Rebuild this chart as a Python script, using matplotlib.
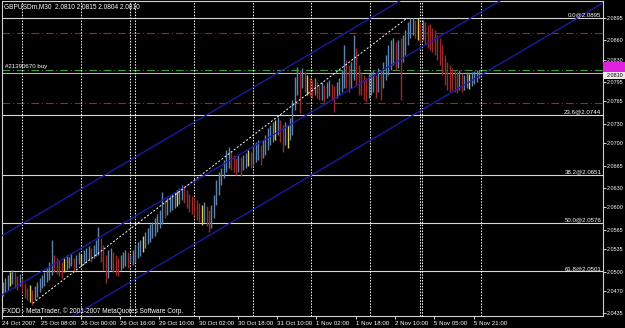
import matplotlib
matplotlib.use("Agg")
import matplotlib.pyplot as plt
from matplotlib.patches import Rectangle
import numpy as np

W, H = 625, 328

# hourly high / low (one entry per two M30 slots)
bar_high = [
    2.0484, 2.0490, 2.0495, 2.0499, 2.0503, 2.0499, 2.0493, 2.0496, 2.0490, 2.0482,
    2.0475, 2.0479, 2.0471, 2.0478, 2.0484, 2.0490, 2.0495, 2.0499, 2.0506, 2.0515,
    2.0549, 2.0526, 2.0521, 2.0518, 2.0515, 2.0521, 2.0526, 2.0523, 2.0527, 2.0521,
    2.0526, 2.0531, 2.0527, 2.0534, 2.0537, 2.0540, 2.0537, 2.0541, 2.0549, 2.0570,
    2.0552, 2.0541, 2.0526, 2.0534, 2.0537, 2.0531, 2.0526, 2.0521, 2.0526, 2.0531,
    2.0534, 2.0531, 2.0526, 2.0534, 2.0541, 2.0546, 2.0549, 2.0556, 2.0562, 2.0568,
    2.0574, 2.0577, 2.0584, 2.0590, 2.0596, 2.0624, 2.0612, 2.0615, 2.0618, 2.0621,
    2.0624, 2.0627, 2.0630, 2.0635, 2.0633, 2.0627, 2.0621, 2.0618, 2.0615, 2.0612,
    2.0607, 2.0604, 2.0608, 2.0602, 2.0596, 2.0604, 2.0619, 2.0643, 2.0655, 2.0661,
    2.0674, 2.0689, 2.0694, 2.0686, 2.0682, 2.0677, 2.0682, 2.0679, 2.0682, 2.0685,
    2.0689, 2.0686, 2.0697, 2.0702, 2.0705, 2.0697, 2.0705, 2.0713, 2.0724, 2.0728,
    2.0733, 2.0736, 2.0741, 2.0736, 2.0728, 2.0733, 2.0728, 2.0739, 2.0767, 2.0803,
    2.0819, 2.0814, 2.0817, 2.0811, 2.0806, 2.0802, 2.0798, 2.0802, 2.0795, 2.0791,
    2.0795, 2.0791, 2.0795, 2.0798, 2.0792, 2.0789, 2.0795, 2.0802, 2.0814, 2.0853,
    2.0830, 2.0822, 2.0826, 2.0868, 2.0848, 2.0822, 2.0811, 2.0806, 2.0802, 2.0808,
    2.0811, 2.0814, 2.0806, 2.0817, 2.0814, 2.0826, 2.0837, 2.0853, 2.0861, 2.0864,
    2.0858, 2.0861, 2.0864, 2.0868, 2.0876, 2.0889, 2.0895, 2.0895, 2.0892, 2.0895,
    2.0889, 2.0892, 2.0889, 2.0884, 2.0886, 2.0879, 2.0876, 2.0868, 2.0864, 2.0853,
    2.0837, 2.0826, 2.0822, 2.0817, 2.0814, 2.0811, 2.0814, 2.0809, 2.0806, 2.0811,
    2.0808, 2.0811, 2.0812, 2.0814, 2.0814,
]
bar_low = [
    2.0462, 2.0468, 2.0471, 2.0478, 2.0481, 2.0475, 2.0471, 2.0478, 2.0468, 2.0459,
    2.0456, 2.0453, 2.0448, 2.0456, 2.0461, 2.0468, 2.0475, 2.0478, 2.0484, 2.0487,
    2.0495, 2.0499, 2.0496, 2.0493, 2.0490, 2.0499, 2.0503, 2.0506, 2.0509, 2.0499,
    2.0506, 2.0512, 2.0509, 2.0512, 2.0515, 2.0518, 2.0515, 2.0521, 2.0524, 2.0526,
    2.0515, 2.0503, 2.0482, 2.0490, 2.0503, 2.0499, 2.0495, 2.0493, 2.0503, 2.0506,
    2.0509, 2.0506, 2.0515, 2.0510, 2.0515, 2.0521, 2.0524, 2.0531, 2.0537, 2.0543,
    2.0546, 2.0552, 2.0556, 2.0562, 2.0568, 2.0574, 2.0584, 2.0588, 2.0593, 2.0596,
    2.0599, 2.0602, 2.0605, 2.0612, 2.0607, 2.0599, 2.0593, 2.0590, 2.0587, 2.0580,
    2.0577, 2.0573, 2.0577, 2.0571, 2.0562, 2.0568, 2.0584, 2.0604, 2.0619, 2.0635,
    2.0646, 2.0655, 2.0661, 2.0658, 2.0655, 2.0650, 2.0655, 2.0649, 2.0658, 2.0661,
    2.0665, 2.0661, 2.0666, 2.0671, 2.0674, 2.0666, 2.0677, 2.0682, 2.0689, 2.0697,
    2.0702, 2.0705, 2.0713, 2.0702, 2.0686, 2.0697, 2.0693, 2.0705, 2.0713, 2.0752,
    2.0775, 2.0747, 2.0786, 2.0780, 2.0775, 2.0774, 2.0770, 2.0775, 2.0770, 2.0767,
    2.0767, 2.0764, 2.0770, 2.0774, 2.0767, 2.0749, 2.0770, 2.0775, 2.0780, 2.0786,
    2.0786, 2.0780, 2.0786, 2.0798, 2.0791, 2.0775, 2.0775, 2.0767, 2.0764, 2.0770,
    2.0775, 2.0780, 2.0770, 2.0780, 2.0767, 2.0786, 2.0798, 2.0806, 2.0814, 2.0822,
    2.0814, 2.0817, 2.0767, 2.0826, 2.0837, 2.0853, 2.0864, 2.0868, 2.0864, 2.0861,
    2.0858, 2.0861, 2.0853, 2.0848, 2.0845, 2.0842, 2.0837, 2.0830, 2.0822, 2.0806,
    2.0791, 2.0783, 2.0780, 2.0783, 2.0780, 2.0778, 2.0783, 2.0780, 2.0783, 2.0786,
    2.0784, 2.0789, 2.0792, 2.0795, 2.0802,
]
yellow_bars = [3, 11, 25, 32, 57, 71, 81, 100, 111, 116, 124, 169, 190]

fib_pct = ["0.0", "23.6", "38.2", "50.0", "61.8"]
fib_price = [2.0895, 2.0744, 2.0651, 2.0576, 2.0501]
red_levels = [2.0871, 2.0763]
order_price = 2.0814
bid_price = 2.0810

# regression channel, price at bar 0 and at bar 490
chan_x = [0, 490]
chan_upper = [2.0556, 2.1109]
chan_mid = [2.0464, 2.1017]
chan_lower = [2.0366, 2.0919]
trend_x = [25, 330]
trend_y = [2.0451, 2.0895]

day_sep = [16, 64, 104, 108, 156, 204, 252, 300, 340, 342, 390]
xtick_pos = [0, 32, 64, 96, 128, 160, 192, 224, 256, 288, 320, 352, 384]
xtick_lab = ["24 Oct 2007", "25 Oct 08:00", "26 Oct 00:00", "26 Oct 16:00",
             "29 Oct 10:00", "30 Oct 02:00", "30 Oct 18:00", "31 Oct 10:00",
             "1 Nov 02:00", "1 Nov 18:00", "2 Nov 10:00", "5 Nov 05:00",
             "5 Nov 21:00"]
ytick_val = [2.0895, 2.0860, 2.0830, 2.0795, 2.0765, 2.0730, 2.0700, 2.0665,
             2.0630, 2.0600, 2.0565, 2.0535, 2.0500, 2.0470, 2.0435]

plt.rcParams['font.family'] = ['Liberation Sans', 'DejaVu Sans']
FS = 4.4
FS_Y = 3.9

fig = plt.figure(figsize=(W / 100, H / 100), dpi=100, facecolor='black')
ax = fig.add_axes([2 / W, 1 - 316 / H, 601 / W, 315 / H], facecolor='black')
ax.set_xlim(-0.04, 489.4)
ax.set_ylim(2.0431, 2.09214)

# price bars
hi = np.array(bar_high)
lo = np.array(bar_low)
mid = (hi + lo) / 2
xs = np.arange(len(hi)) * 2 + 0.5
cols = []
for k in range(len(hi)):
    if k in yellow_bars:
        cols.append('#d6cf5a')
    elif k == 0 or mid[k] >= mid[k - 1]:
        cols.append('#5f84ad')
    else:
        cols.append('#9b2b2b')
ax.vlines(xs, lo, hi, colors=cols, linewidth=1.0, zorder=3)

# horizontal levels
for p in fib_price:
    ax.axhline(p, color='#d8d8d8', lw=0.8, zorder=2)
for p in red_levels:
    ax.axhline(p, color='#b01e1e', lw=0.8, ls=(0, (7, 2.5, 1, 2.5)), zorder=2)
ax.axhline(order_price, color='#3c9a3c', lw=0.8, ls=(0, (7, 2.5, 1, 2.5)), zorder=2)
ax.axhline(bid_price, color='#b4b4b4', lw=0.8, zorder=2)

for d in day_sep:
    ax.axvline(d, color='white', lw=0.7, ls=(0, (1.5, 1.5)), zorder=2)

for yy in (chan_upper, chan_mid, chan_lower):
    ax.plot(chan_x, yy, color='#1c1cb4', lw=0.9, zorder=4)
ax.plot(trend_x, trend_y, color='white', lw=0.7, ls=(0, (2, 2)), zorder=4)

for pct, p in zip(fib_pct, fib_price):
    ax.text(0.997, p + 0.00003, f"{pct}@{p:.4f}", transform=ax.get_yaxis_transform(),
            ha='right', va='bottom', color='white', fontsize=FS, zorder=5)

# axes styling
for s in ax.spines.values():
    s.set_color('#d0d0d0')
    s.set_linewidth(0.8)
ax.yaxis.tick_right()
ax.set_yticks(ytick_val)
ax.set_yticklabels([f"{v:.4f}" for v in ytick_val])
ax.set_xticks(xtick_pos)
ax.set_xticklabels(xtick_lab)
plt.setp(ax.get_xticklabels(), ha='left')
ax.tick_params(axis='y', direction='out', length=2.0, width=0.6, colors='white',
               labelsize=FS_Y, pad=0.8)
ax.tick_params(axis='x', direction='out', length=2.5, width=0.6, colors='white',
               labelsize=FS, pad=1.0)

# current price boxes on the price scale
tr = ax.get_yaxis_transform()
ax.add_patch(Rectangle((1.0, 2.08094), 22 / 601, 0.00163, transform=tr,
                       facecolor='#e020e0', edgecolor='none', clip_on=False, zorder=6))
ax.add_patch(Rectangle((1.0, 2.07998), 22 / 601, 0.00106, transform=tr,
                       facecolor='#e8e8e8', edgecolor='none', clip_on=False, zorder=7))
ax.text(1.006, 2.0805, "2.0810", transform=tr, ha='left', va='center',
        color='black', fontsize=FS_Y, zorder=8, clip_on=False)

fig.text(4 / W, 1 - 6.5 / H, "GBPUSDm,M30  2.0810 2.0815 2.0804 2.0810",
         color='white', fontsize=FS + 0.3, va='center', ha='left')
ax.text(0.005, order_price + 0.00012, "#21390670 buy", color='white',
        fontsize=FS, va='bottom', ha='left', transform=ax.get_yaxis_transform())
fig.text(3 / W, 1 - 311.5 / H,
         "FXDD - MetaTrader, \u00a9 2001-2007 MetaQuotes Software Corp.",
         color='white', fontsize=FS + 0.3, va='center', ha='left')

fig.savefig("out.png", dpi=100, facecolor='black')
